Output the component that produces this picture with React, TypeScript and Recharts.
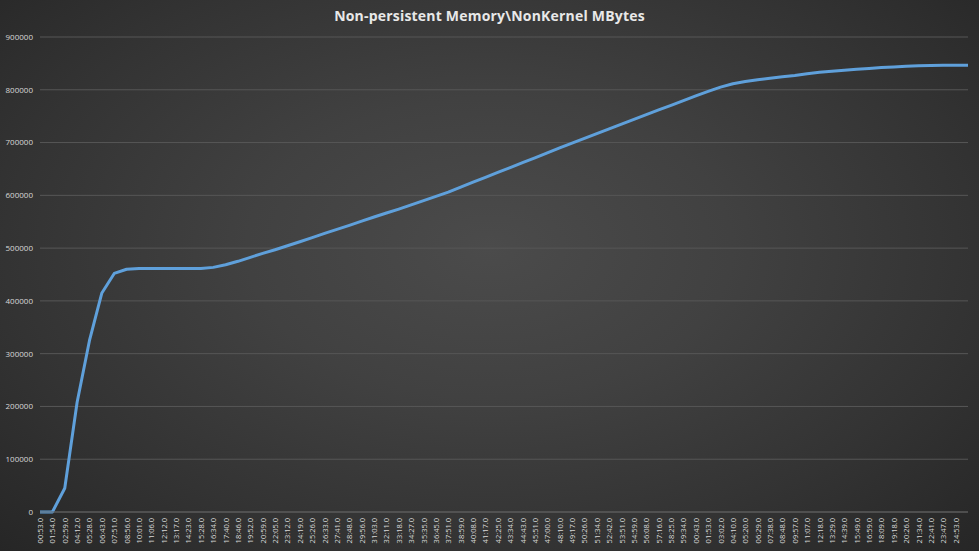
import React from "react";
import { LineChart, Line, XAxis, YAxis, CartesianGrid } from "recharts";

const TITLE = "Non-persistent Memory\\NonKernel MBytes";

const timeLabels = [
  "00:53.0", "01:54.0", "02:59.0", "04:12.0", "05:28.0", "06:43.0", "07:51.0", "08:56.0",
  "10:01.0", "11:06.0", "12:12.0", "13:17.0", "14:23.0", "15:28.0", "16:34.0", "17:40.0",
  "18:46.0", "19:52.0", "20:59.0", "22:05.0", "23:12.0", "24:19.0", "25:26.0", "26:33.0",
  "27:41.0", "28:48.0", "29:56.0", "31:03.0", "32:11.0", "33:18.0", "34:27.0", "35:35.0",
  "36:45.0", "37:51.0", "38:59.0", "40:08.0", "41:17.0", "42:25.0", "43:34.0", "44:43.0",
  "45:51.0", "47:00.0", "48:10.0", "49:17.0", "50:26.0", "51:34.0", "52:42.0", "53:51.0",
  "54:59.0", "56:08.0", "57:16.0", "58:25.0", "59:34.0", "00:43.0", "01:53.0", "03:02.0",
  "04:10.0", "05:20.0", "06:29.0", "07:38.0", "08:48.0", "09:57.0", "11:07.0", "12:18.0",
  "13:29.0", "14:39.0", "15:49.0", "16:59.0", "18:09.0", "19:18.0", "20:26.0", "21:34.0",
  "22:41.0", "23:47.0", "24:53.0", "",
];

const memoryValues = [
  0, 0, 45000, 208000, 325000, 415000, 452000, 460000,
  461500, 461500, 461500, 461500, 461500, 461500, 463500, 468500,
  475000, 482500, 490000, 497000, 504500, 512000, 520000, 528000,
  535500, 543000, 551000, 559000, 566500, 574000, 582000, 590000,
  598000, 606000, 615500, 625000, 634000, 643500, 652500, 662000,
  671000, 680500, 690000, 699000, 708000, 717000, 726000, 735000,
  744000, 753000, 762000, 770500, 779500, 788500, 797000, 805000,
  811500, 815500, 819000, 822000, 824500, 827000, 830500, 833000,
  835000, 837000, 839000, 840500, 842000, 843000, 844500, 845500,
  846000, 846500, 846500, 846500,
];

const yTicks = [0, 100000, 200000, 300000, 400000, 500000, 600000, 700000, 800000, 900000];

const data = timeLabels.map((t, i) => ({ time: t, value: memoryValues[i] }));

const FONT = "'Open Sans', 'Liberation Sans', sans-serif";

const RotatedTick = (props: any) => {
  const { x, y, payload } = props;
  return (
    <text
      x={x}
      y={y}
      transform={`rotate(-90, ${x}, ${y})`}
      textAnchor="end"
      dominantBaseline="central"
      fill="#d8d8d8"
      fontSize={7.5}
      fontFamily={FONT}
    >
      {payload.value}
    </text>
  );
};

export default function App() {
  return (
    <div
      style={{
        position: "absolute",
        left: 0,
        top: 0,
        width: 979,
        height: 551,
        background:
          "radial-gradient(ellipse at 50% 45%, #4b4b4b 0%, #414141 35%, #333333 70%, #262626 100%)",
        overflow: "hidden",
      }}
    >
      <div
        style={{
          position: "absolute",
          left: 0,
          top: 6,
          width: 979,
          textAlign: "center",
          fontFamily: FONT,
          fontWeight: 700,
          fontSize: 14,
          color: "#e8e8e8",
          letterSpacing: 0.2,
        }}
      >
        {TITLE}
      </div>
      <LineChart
        width={979}
        height={551}
        data={data}
        margin={{ top: 37, right: 11, left: 0, bottom: 0 }}
      >
        <CartesianGrid vertical={false} stroke="#575757" strokeWidth={1} />
        <XAxis
          dataKey="time"
          interval={0}
          height={39}
          tickSize={0}
          tickMargin={6}
          tick={<RotatedTick />}
          axisLine={{ stroke: "#5e5e5e" }}
          tickLine={false}
        />
        <YAxis
          domain={[0, 900000]}
          ticks={yTicks}
          width={40}
          tickSize={0}
          tickMargin={7}
          axisLine={false}
          tickLine={false}
          tick={{ fill: "#d8d8d8", fontSize: 8, fontFamily: FONT }}
        />
        <Line
          type="linear"
          dataKey="value"
          stroke="#5fa0db"
          strokeWidth={3}
          strokeLinejoin="round"
          dot={false}
          isAnimationActive={false}
        />
      </LineChart>
    </div>
  );
}
